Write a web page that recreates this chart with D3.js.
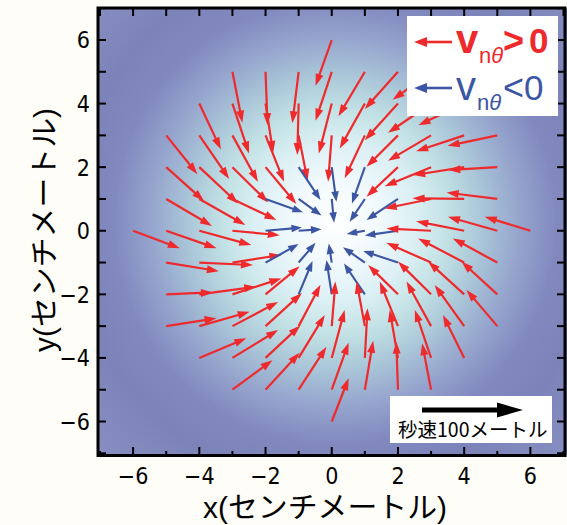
<!DOCTYPE html>
<html>
<head>
<meta charset="utf-8">
<script src="https://cdn.jsdelivr.net/npm/d3@7"></script>
<style>
  body { margin: 0; background: #fffdf7; }
  svg { display: block; }
</style>
</head>
<body>
<div id="chart"></div>
<script>
// grid rows, top to bottom; each row lists the x positions of the arrow tails
const rowY = [6, 5, 4, 3, 2, 1, 0, -1, -2, -3, -4, -5, -6];
const rowX = [
  [0],
  [-3, -2, -1, 0, 1, 2, 3],
  [-4, -3, -2, -1, 0, 1, 2, 3, 4],
  [-5, -4, -3, -2, -1, 0, 1, 2, 3, 4, 5],
  [-5, -4, -3, -2, -1, 0, 1, 2, 3, 4, 5],
  [-5, -4, -3, -2, -1, 0, 1, 2, 3, 4, 5],
  [-6, -5, -4, -3, -2, -1, 1, 2, 3, 4, 5, 6],
  [-5, -4, -3, -2, -1, 0, 1, 2, 3, 4, 5],
  [-5, -4, -3, -2, -1, 0, 1, 2, 3, 4, 5],
  [-5, -4, -3, -2, -1, 0, 1, 2, 3, 4, 5],
  [-4, -3, -2, -1, 0, 1, 2, 3, 4],
  [-3, -2, -1, 0, 1, 2, 3],
  [0]
];
// arrow components (in axis units), same layout as rowX
const rowU = [
  [-0.49],
  [0.30, 0.06, -0.19, -0.49, -0.80, -1.00, -1.16],
  [0.65, 0.50, 0.23, -0.04, -0.39, -0.76, -1.00, -1.30, -1.38],
  [0.94, 0.90, 0.77, 0.56, 0.27, -0.11, -0.61, -0.95, -1.30, -1.45, -1.50],
  [1.14, 1.17, 1.08, 0.93, 0.66, 0.14, -0.39, -0.95, -1.40, -1.54, -1.48],
  [1.38, 1.39, 1.33, 1.13, 0.69, 0.07, -0.46, -0.95, -1.40, -1.56, -1.53],
  [1.41, 1.52, 1.57, 1.43, 1.10, 0.69, -0.55, -1.00, -1.35, -1.45, -1.49, -1.38],
  [1.59, 1.62, 1.48, 1.00, 0.51, -0.09, -0.66, -1.05, -1.35, -1.39, -1.34],
  [1.41, 1.72, 1.48, 1.03, 0.42, -0.16, -0.63, -0.90, -1.00, -1.09, -1.08],
  [1.52, 1.52, 1.38, 1.10, 0.66, 0.11, -0.25, -0.55, -0.74, -0.89, -0.93],
  [1.42, 1.38, 1.05, 0.79, 0.39, 0.08, -0.25, -0.49, -0.64],
  [1.21, 1.03, 0.84, 0.51, 0.25, -0.05, -0.27],
  [0.51]
];
const rowV = [
  [-1.44],
  [-1.60, -1.68, -1.62, -1.54, -1.40, -1.17, -0.88],
  [-1.44, -1.57, -1.55, -1.62, -1.57, -1.41, -1.15, -0.92, -0.68],
  [-1.22, -1.37, -1.46, -1.46, -1.43, -1.46, -1.35, -0.99, -0.80, -0.50, -0.33],
  [-1.06, -1.14, -1.11, -1.16, -1.03, -1.09, -1.14, -0.93, -0.60, -0.25, -0.09],
  [-0.85, -0.82, -0.66, -0.42, -0.52, -0.75, -0.72, -0.66, -0.30, 0.02, 0.20],
  [-0.55, -0.55, -0.45, -0.14, 0.10, 0.05, -0.10, -0.15, 0.07, 0.30, 0.44, 0.44],
  [-0.27, -0.08, 0.24, 0.58, 0.62, 0.60, 0.48, 0.36, 0.62, 0.76, 0.76],
  [0.06, 0.24, 0.50, 0.88, 1.05, 1.08, 0.97, 0.92, 1.03, 1.03, 1.03],
  [0.25, 0.45, 0.76, 1.04, 1.30, 1.40, 1.40, 1.40, 1.40, 1.29, 1.14],
  [0.62, 0.88, 1.02, 1.35, 1.51, 1.56, 1.51, 1.51, 1.35],
  [0.93, 1.16, 1.35, 1.48, 1.54, 1.51, 1.46],
  [1.36]
];
// sign of v_nθ : 1 = red (> 0), -1 = blue (< 0)
const rowSign = [
  [1],
  [1, 1, 1, 1, 1, 1, 1],
  [1, 1, 1, 1, 1, 1, 1, 1, 1],
  [1, 1, 1, 1, 1, 1, 1, 1, 1, 1, 1],
  [1, 1, 1, 1, -1, -1, -1, 1, 1, 1, 1],
  [1, 1, 1, -1, -1, -1, -1, -1, 1, 1, 1],
  [1, 1, 1, 1, -1, -1, -1, -1, 1, 1, 1, 1],
  [1, 1, 1, -1, -1, -1, -1, -1, 1, 1, 1],
  [1, 1, 1, 1, -1, -1, -1, 1, 1, 1, 1],
  [1, 1, 1, 1, 1, 1, 1, 1, 1, 1, 1],
  [1, 1, 1, 1, 1, 1, 1, 1, 1],
  [1, 1, 1, 1, 1, 1, 1],
  [1]
];
const xTicks = [-6, -4, -2, 0, 2, 4, 6];
const yTicks = [-6, -4, -2, 0, 2, 4, 6];
const scaleArrowLen = 3.05;   // 100 m/s in axis units
const scaleLabel = "秒速100メートル";
const xTitle = "x(センチメートル)";
const yTitle = "y(センチメートル)";

const RED = "#ee2a2c", BLUE = "#3c56a3";

const width = 567, height = 525;
const x = d3.scaleLinear().domain([-7, 7]).range([100, 563.5]);
const y = d3.scaleLinear().domain([-7, 7]).range([453.3, 8.2]);

const arrows = [];
rowY.forEach((gy, i) => rowX[i].forEach((gx, j) => {
  arrows.push({ x: gx, y: gy, u: rowU[i][j], v: rowV[i][j], s: rowSign[i][j] });
}));

const svg = d3.select('#chart').append('svg')
    .attr('width', width).attr('height', height);

const defs = svg.append('defs');
const grad = defs.append('radialGradient').attr('id', 'bg')
    .attr('gradientUnits', 'userSpaceOnUse')
    .attr('cx', 335).attr('cy', 222).attr('r', 330);
[[0, '#ffffff'], [0.12, '#f3fafd'], [0.24, '#dcf0f5'], [0.34, '#c3e2e5'],
 [0.45, '#a9c5d8'], [0.56, '#95a4cd'], [0.67, '#8289bf'], [0.8, '#7c83b8'],
 [1, '#878fc2']].forEach(([o, c]) =>
  grad.append('stop').attr('offset', o).attr('stop-color', c));

defs.append('clipPath').attr('id', 'plotclip').append('rect')
    .attr('x', 98).attr('y', 8).attr('width', 467).attr('height', 447.5);

// background field
svg.append('rect')
    .attr('x', 98).attr('y', 8).attr('width', 469).attr('height', 447.5)
    .attr('fill', 'url(#bg)');

function drawArrow(g, x0, y0, x1, y1, color, lw, hl, hw) {
  const dx = x1 - x0, dy = y1 - y0, len = Math.hypot(dx, dy);
  const ux = dx / len, uy = dy / len;
  g.append('line')
      .attr('x1', x0).attr('y1', y0)
      .attr('x2', x1 - ux * hl * 0.6).attr('y2', y1 - uy * hl * 0.6)
      .attr('stroke', color).attr('stroke-width', lw);
  const bx = x1 - ux * hl, by = y1 - uy * hl;
  g.append('path')
      .attr('d', `M${x1},${y1}L${bx - uy * hw},${by + ux * hw}L${bx + uy * hw},${by - ux * hw}Z`)
      .attr('fill', color);
}

const field = svg.append('g').attr('clip-path', 'url(#plotclip)');
arrows.forEach(d => {
  const red = d.s > 0;
  drawArrow(field, x(d.x), y(d.y), x(d.x + d.u), y(d.y + d.v),
            red ? RED : BLUE, red ? 2.2 : 2.1, red ? 12 : 10.5, red ? 4 : 3.8);
});

// ticks on all sides
const ticks = d3.range(-7, 8);
const tg = svg.append('g').attr('stroke', '#000').attr('stroke-width', 2);
ticks.forEach(t => {
  const major = t % 2 === 0;
  tg.append('line').attr('x1', x(t)).attr('x2', x(t)).attr('y1', 455).attr('y2', 455 - (major ? 8 : 4));
  tg.append('line').attr('x1', x(t)).attr('x2', x(t)).attr('y1', 8).attr('y2', 16);
  tg.append('line').attr('y1', y(t)).attr('y2', y(t)).attr('x1', 98).attr('x2', 106);
  tg.append('line').attr('y1', y(t)).attr('y2', y(t)).attr('x1', 565).attr('x2', 557);
});

svg.append('rect')
    .attr('x', 98).attr('y', 8).attr('width', 467).attr('height', 447.5)
    .attr('fill', 'none').attr('stroke', '#000').attr('stroke-width', 3);

const tickFont = '"Liberation Sans Narrow", "DejaVu Sans Condensed", sans-serif';
const fmt = t => (t < 0 ? '\u2212' + Math.abs(t) : String(t));
svg.append('g').selectAll('text').data(xTicks).join('text')
    .attr('x', d => x(d)).attr('y', 484)
    .attr('text-anchor', 'middle')
    .attr('font-family', tickFont).attr('font-size', 23)
    .text(fmt);
svg.append('g').selectAll('text').data(yTicks).join('text')
    .attr('x', 90).attr('y', d => y(d) + 8.5)
    .attr('text-anchor', 'end')
    .attr('font-family', tickFont).attr('font-size', 23)
    .text(fmt);

// Latin first so the "x"/"y" looks like the reference; kana fall back to CJK
const titleFont = '"Liberation Sans", "Noto Sans CJK JP", sans-serif';
svg.append('text')
    .attr('x', 325).attr('y', 518)
    .attr('text-anchor', 'middle')
    .attr('font-family', titleFont).attr('font-size', 29)
    .attr('textLength', 244).attr('lengthAdjust', 'spacingAndGlyphs')
    .text(xTitle);
svg.append('text')
    .attr('transform', 'translate(55,230) rotate(-90)')
    .attr('text-anchor', 'middle')
    .attr('font-family', titleFont).attr('font-size', 29)
    .attr('textLength', 244).attr('lengthAdjust', 'spacingAndGlyphs')
    .text(yTitle);

// legend: one text per row, pieces placed as tspans
const leg = svg.append('g');
leg.append('rect').attr('x', 407).attr('y', 16).attr('width', 151).attr('height', 100).attr('fill', '#fff');
const legRows = [
  { c: RED, base: 53, ay: 42, sym: '>', w: 'bold', sx: 479, zx: 529 },
  { c: BLUE, base: 100, ay: 88, sym: '<', w: 'normal', sx: 477, zx: 524 }
];
const legFont = '"Liberation Sans", Arial, sans-serif';
legRows.forEach(r => {
  drawArrow(leg, 452, r.ay, 414, r.ay, r.c, 2.6, 13, 5);
  const t = leg.append('text')
      .attr('font-family', legFont).attr('font-weight', r.w).attr('fill', r.c);
  t.append('tspan').attr('x', 456).attr('y', r.base).attr('font-size', 40).text('v');
  t.append('tspan').attr('x', r.sx).attr('y', r.base + 10).attr('font-size', 22)
      .attr('font-weight', 'normal').text('n');
  t.append('tspan').attr('font-size', 22).attr('font-weight', 'normal')
      .attr('font-style', 'italic').text('θ');
  t.append('tspan').attr('x', 503).attr('y', r.base).attr('font-size', 36).text(r.sym);
  t.append('tspan').attr('x', r.zx).attr('y', r.base).attr('font-size', 35).text('0');
});

// speed scale box
const sb = svg.append('g');
sb.append('rect').attr('x', 390).attr('y', 396).attr('width', 162).attr('height', 47).attr('fill', '#fff');
const sx0 = 422, sx1 = sx0 + (x(scaleArrowLen) - x(0));
drawArrow(sb, sx0, 410, sx1, 410, '#000', 5, 26, 7.5);
sb.append('text').attr('x', 398).attr('y', 437)
    .attr('font-family', '"Noto Sans CJK JP", sans-serif').attr('font-size', 19.5)
    .text(scaleLabel);
</script>
</body>
</html>
